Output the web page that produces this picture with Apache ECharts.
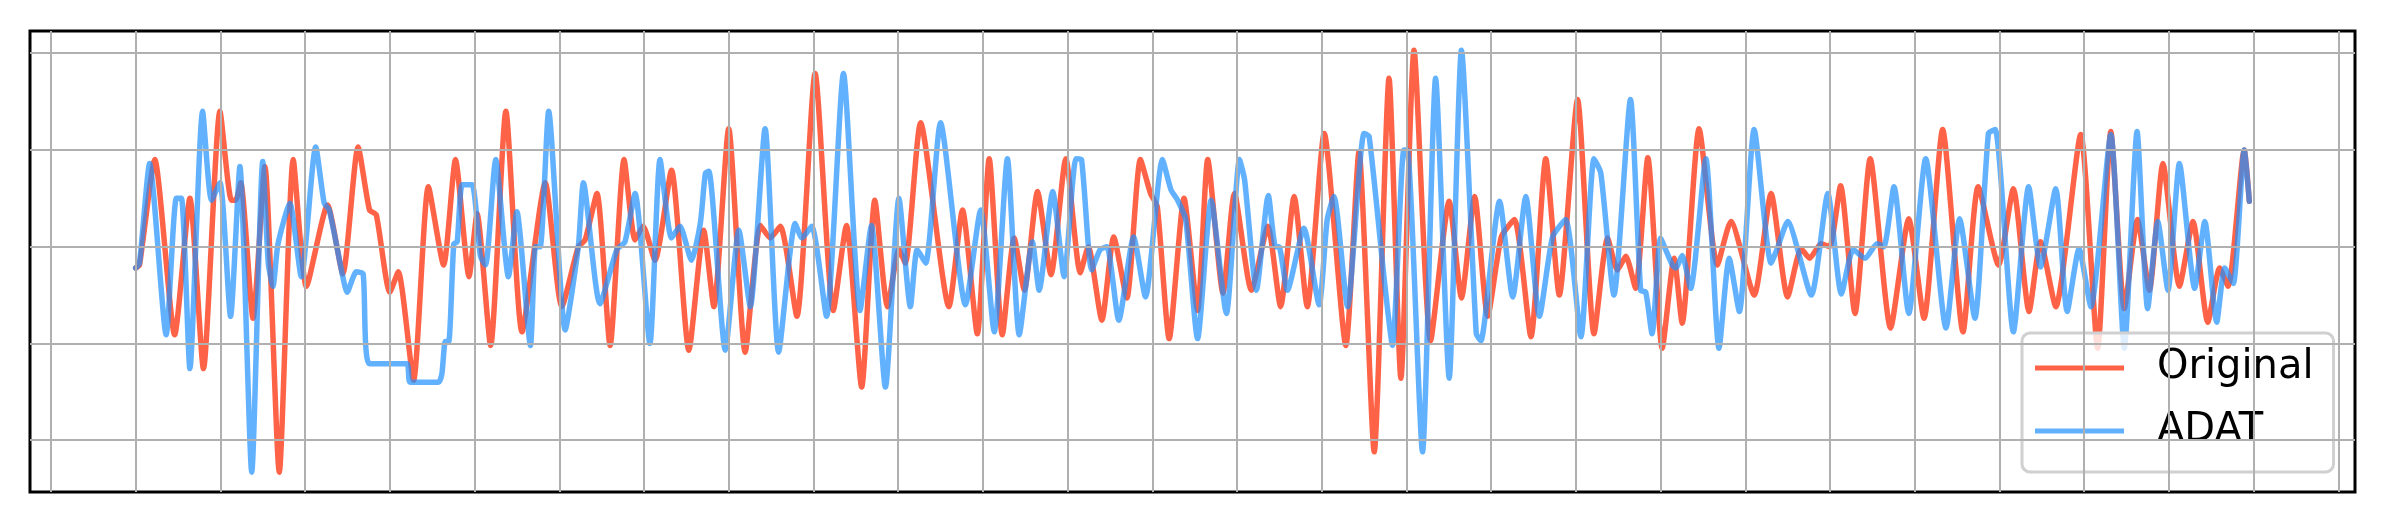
<!DOCTYPE html>
<html>
<head>
<meta charset="utf-8">
<title>Original vs ADAT</title>
<script src="https://cdn.jsdelivr.net/npm/echarts@6/dist/echarts.min.js"></script>
<style>
  html, body { margin: 0; padding: 0; background: #fff; }
</style>
</head>
<body>
<div id="main" style="width: 2385px; height: 522px;"></div>
<script type="text/javascript">
// turning points: [step, value]
var original = [[0,-0.22],[0.9,-0.19],[4.5,0.90],[9.2,-0.91],[12.8,0.50],[16.0,-1.26],[19.9,1.40],[22.6,0.48],[23.6,0.48],[24.8,0.66],[27.7,-0.74],[30.5,0.83],[33.9,-2.33],[37.2,0.90],[40.3,-0.41],[45.3,0.43],[48.9,-0.28],[52.5,1.03],[55.2,0.38],[56.8,0.33],[60.0,-0.47],[62.0,-0.26],[65.6,-1.38],[69.1,0.62],[72.7,-0.19],[75.5,0.90],[78.7,-0.31],[80.6,0.34],[83.8,-1.02],[87.4,1.40],[91.2,-0.88],[96.7,0.66],[100.6,-0.62],[104.5,0.00],[106.1,0.07],[108.9,0.55],[112.0,-1.02],[115.3,0.90],[117.9,0.07],[119.8,0.21],[122.6,-0.14],[126.5,0.79],[130.6,-1.07],[134.1,0.17],[136.5,-0.62],[140.0,1.22],[143.9,-1.09],[147.5,0.22],[149.8,0.09],[152.2,0.21],[156.1,-0.72],[160.4,1.79],[164.7,-0.66],[167.8,0.22],[171.4,-1.45],[174.5,0.48],[177.5,-0.62],[180.2,-0.03],[181.7,-0.17],[185.3,1.28],[192.0,-0.62],[195.2,0.38],[198.7,-0.90],[201.5,0.91],[204.6,-0.91],[207.4,0.09],[209.8,-0.45],[212.9,0.57],[216.1,-0.29],[219.6,0.91],[223.0,-0.27],[224.9,0.00],[228.1,-0.76],[230.9,0.10],[234.0,-0.53],[237.2,0.90],[239.6,0.55],[241.2,0.41],[244.0,-0.95],[247.5,0.50],[250.7,-0.66],[253.1,0.90],[256.7,-0.48],[259.4,0.55],[263.4,-0.45],[267.3,0.21],[270.3,-0.62],[273.5,0.52],[276.6,-0.62],[280.6,1.17],[285.7,-1.02],[288.8,0.98],[292.4,-2.12],[295.9,1.74],[298.7,-1.36],[301.8,2.03],[305.7,-0.97],[310.1,0.47],[313.0,-0.53],[316.1,0.52],[319.2,-0.72],[322.4,0.10],[325.5,0.28],[329.4,-0.93],[332.9,0.91],[336.1,-0.50],[340.4,1.52],[344.3,-0.90],[347.5,0.09],[349.8,-0.24],[351.8,-0.10],[354.1,-0.43],[357.0,0.92],[360.4,-1.05],[363.2,-0.12],[365.1,-0.79],[369.1,1.22],[373.4,-0.19],[376.6,0.26],[382.1,-0.50],[386.1,0.55],[390.0,-0.52],[393.2,-0.02],[395.2,-0.12],[397.9,0.03],[399.9,0.00],[402.5,0.63],[405.9,-0.69],[409.5,0.91],[414.3,-0.84],[418.6,0.29],[422.2,-0.74],[426.6,1.21],[431.4,-0.88],[435.0,0.62],[439.8,-0.19],[443.3,0.60],[447.0,-0.67],[449.7,0.05],[453.3,-0.62],[459.2,1.16],[463.2,-1.05],[466.3,1.19],[469.5,-0.64],[472.6,0.28],[475.4,-0.45],[478.6,0.86],[482.5,-0.41],[485.7,0.26],[489.2,-0.78],[492.0,-0.22],[494.0,-0.41],[497.8,1.00],[499,0.47]];

var adat = [[0,-0.22],[0.9,-0.17],[3.3,0.86],[7.2,-0.91],[9.6,0.50],[10.8,0.50],[12.8,-1.26],[15.8,1.40],[17.9,0.48],[19.9,0.66],[22.4,-0.72],[24.6,0.83],[27.4,-2.33],[30.0,0.88],[31.3,-0.17],[32.4,-0.41],[33.6,0.03],[36.4,0.45],[39.1,-0.31],[42.5,1.03],[44.5,0.45],[45.7,0.38],[48.9,-0.31],[49.9,-0.47],[52.1,-0.26],[53.7,-0.28],[55.2,-1.21],[64.0,-1.21],[64.8,-1.40],[71.5,-1.40],[72.3,-1.31],[73.1,-0.98],[73.9,-0.98],[75.1,0.03],[75.9,0.05],[77.1,0.64],[79.4,0.64],[81.4,-0.10],[82.6,-0.19],[85.0,0.90],[88.0,-0.31],[90.0,0.36],[93.2,-1.02],[94.4,0.00],[95.5,0.00],[97.5,1.40],[101.4,-0.86],[104.5,0.00],[105.7,0.66],[109.6,-0.59],[113.6,-0.03],[115.5,0.05],[117.9,0.55],[121.4,-1.00],[123.8,0.90],[126.5,0.09],[128.5,0.21],[131.2,-0.14],[133.3,0.24],[134.5,0.76],[135.3,0.78],[139.2,-1.07],[142.4,0.17],[145.1,-0.62],[148.6,1.22],[151.8,-1.09],[155.7,0.24],[157.3,0.09],[159.6,0.21],[163.1,-0.72],[167.1,1.79],[171.0,-0.66],[173.7,0.22],[177.0,-1.45],[180.2,0.50],[182.9,-0.62],[184.5,-0.03],[186.5,-0.17],[190.0,1.28],[195.9,-0.60],[199.5,0.38],[202.7,-0.88],[205.8,0.91],[208.6,-0.91],[211.7,0.05],[213.3,-0.45],[216.5,0.57],[219.2,-0.31],[222.0,0.91],[223.3,0.90],[225.7,-0.24],[227.7,-0.03],[229.3,0.00],[232.1,-0.76],[235.6,0.10],[238.4,-0.52],[242.4,0.90],[244.4,0.59],[246.0,0.48],[247.9,0.28],[250.7,-0.95],[253.9,0.48],[257.5,-0.69],[260.6,0.90],[261.8,0.69],[264.6,-0.45],[267.4,0.53],[269.1,0.00],[269.9,0.00],[271.9,-0.45],[275.8,0.19],[279.4,-0.60],[281.3,0.28],[282.9,0.52],[286.1,-0.62],[290.0,1.17],[291.2,1.14],[294.7,-0.31],[296.7,-1.02],[299.4,1.00],[300.2,1.00],[303.8,-2.12],[306.9,1.74],[310.1,-1.36],[313.0,2.03],[316.5,-0.90],[317.6,-0.97],[318.4,-0.79],[322.0,0.47],[325.1,-0.52],[328.2,0.52],[331.4,-0.72],[334.5,0.10],[337.6,0.28],[341.2,-0.93],[344.3,0.91],[345.9,0.76],[349.0,-0.50],[352.9,1.52],[355.3,-0.45],[356.5,-0.47],[358.0,-0.90],[360.0,0.09],[361.2,-0.03],[362.8,-0.19],[363.6,-0.22],[365.1,-0.09],[367.1,-0.43],[370.7,0.91],[373.8,-1.05],[376.2,-0.12],[378.6,-0.67],[382.1,1.21],[386.1,-0.17],[387.7,0.00],[390.0,0.26],[395.6,-0.50],[399.5,0.55],[402.7,-0.49],[405.5,-0.03],[408.3,-0.12],[411.1,0.03],[412.7,0.00],[415.1,0.62],[418.6,-0.69],[422.6,0.91],[427.4,-0.84],[430.6,0.29],[434.2,-0.74],[437.4,1.17],[439.0,1.21],[443.3,-0.88],[446.9,0.62],[449.7,-0.21],[453.3,0.60],[456.0,-0.67],[458.8,-0.02],[461.6,-0.62],[466.3,1.16],[469.5,-1.05],[472.5,1.19],[475.0,-0.64],[477.4,0.26],[479.8,-0.45],[482.5,0.86],[486.1,-0.43],[488.5,0.26],[491.3,-0.78],[493.2,-0.22],[495.2,-0.38],[497.8,1.00],[499,0.47]];

var seriesNames = ['Original', 'ADAT'];
var xGridAt = [-20, 0, 20, 40, 60, 80, 100, 120, 140, 160, 180, 200, 220, 240, 260, 280, 300, 320, 340, 360, 380, 400, 420, 440, 460, 480, 500, 520];
var yGridAt = [-2, -1, 0, 1, 2];

var myChart = echarts.init(document.getElementById('main'));

var gridLines = [];
xGridAt.forEach(function (v) { gridLines.push({ xAxis: v }); });
yGridAt.forEach(function (v) { gridLines.push({ yAxis: v }); });

var option = {
    animation: false,
    backgroundColor: '#fff',
    grid: {
        left: 30, right: 30, top: 31, bottom: 30,
        show: true,
        borderColor: '#000',
        borderWidth: 3,
        backgroundColor: 'transparent'
    },
    xAxis: {
        type: 'value',
        min: -24.95,
        max: 523.95,
        axisLine: { show: false },
        axisTick: { show: false },
        axisLabel: { show: false },
        splitLine: { show: false }
    },
    yAxis: {
        type: 'value',
        min: -2.535,
        max: 2.229,
        axisLine: { show: false },
        axisTick: { show: false },
        axisLabel: { show: false },
        splitLine: { show: false }
    },
    legend: {
        orient: 'vertical',
        left: 2022,
        top: 333,
        padding: [15, 20, 21, 13],
        itemGap: 23,
        itemWidth: 89,
        itemHeight: 5,
        icon: 'rect',
        borderColor: '#d0d0d0',
        borderWidth: 3,
        borderRadius: 8,
        backgroundColor: 'rgba(255,255,255,0.8)',
        textStyle: {
            fontFamily: 'DejaVu Sans',
            fontSize: 40,
            lineHeight: 40,
            color: '#000',
            padding: [0, 0, 0, 28]
        },
        data: seriesNames
    },
    series: [
        {
            name: 'grid',
            type: 'line',
            data: [],
            silent: true,
            z: 1,
            markLine: {
                silent: true,
                symbol: ['none', 'none'],
                label: { show: false },
                animation: false,
                lineStyle: { color: '#b0b0b0', width: 2, type: 'solid' },
                emphasis: { disabled: true },
                data: gridLines
            }
        },
        {
            name: seriesNames[0],
            type: 'line',
            data: original,
            showSymbol: false,
            symbol: 'none',
            smooth: 0.2,
            z: 2,
            color: '#ff6347',
            lineStyle: { color: '#ff6347', width: 5.5, join: 'round', cap: 'round' }
        },
        {
            name: seriesNames[1],
            type: 'line',
            data: adat,
            showSymbol: false,
            symbol: 'none',
            smooth: 0.2,
            z: 3,
            color: 'rgba(30,144,255,0.7)',
            lineStyle: { color: 'rgba(30,144,255,0.7)', width: 5.5, join: 'round', cap: 'round' }
        }
    ]
};
myChart.setOption(option);
</script>
</body>
</html>
